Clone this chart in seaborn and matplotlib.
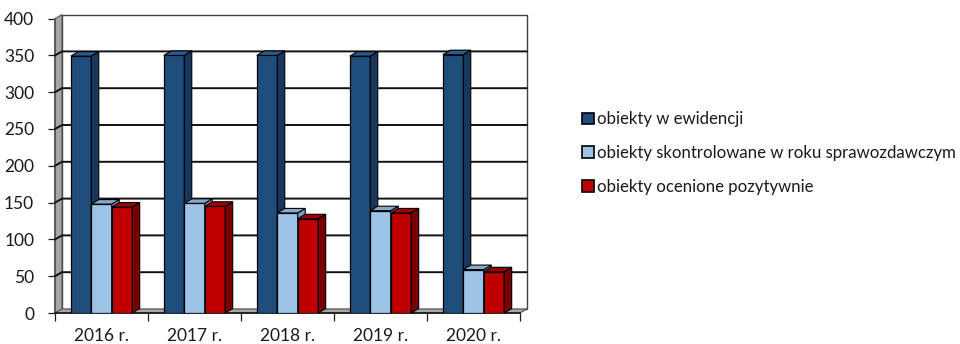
import numpy as np
import pandas as pd
import matplotlib
matplotlib.use("Agg")
import matplotlib.pyplot as plt
from matplotlib.patches import Polygon, Patch
import seaborn as sns

# Data
years = ["2016 r.", "2017 r.", "2018 r.", "2019 r.", "2020 r."]
series_names = [
    "obiekty w ewidencji",
    "obiekty skontrolowane w roku sprawozdawczym",
    "obiekty ocenione pozytywnie",
]
w_ewidencji = [349, 350, 350, 349, 351]
skontrolowane = [148, 149, 136, 139, 59]
ocenione = [144, 145, 128, 136, 56]
y_ticks = [0, 50, 100, 150, 200, 250, 300, 350, 400]

df = pd.DataFrame({
    "rok": years * 3,
    "seria": [series_names[0]] * 5 + [series_names[1]] * 5 + [series_names[2]] * 5,
    "liczba": w_ewidencji + skontrolowane + ocenione,
})

front = ["#1F4E7D", "#9DC3E6", "#C00000"]
side = ["#17375E", "#7E9CBF", "#7A0000"]
top = ["#2A5A92", "#8AA8CC", "#A00000"]

sns.set_theme(style="white")
plt.rcParams["font.family"] = ["Lato", "DejaVu Sans"]
TXT = "#1a1a1a"

fig = plt.figure(figsize=(9.6, 3.44), dpi=100)
fig.patch.set_facecolor("white")
ax = fig.add_axes([55 / 960, 31 / 344, 465 / 960, (313 - 18.6) / 344])
ax.set_facecolor("none")

sns.barplot(data=df, x="rok", y="liczba", hue="seria", order=years,
            hue_order=series_names, palette=front, saturation=1, width=0.66,
            edgecolor="black", linewidth=0.9, ax=ax, legend=False)

ax.set_xlim(-0.5, len(years) - 0.5)
ax.set_ylim(0, 400)
fig.canvas.draw()

WALL = np.array([7.0, 4.0])   # depth of the back wall, px
BAR = np.array([7.5, 4.5])    # depth of each column, px
inv = ax.transData.inverted()


def shifted(x, y, d):
    p = ax.transData.transform((x, y)) + d
    return tuple(inv.transform(p))


x0, x1 = ax.get_xlim()
zero = np.zeros(2)

# back wall, side wall and floor
wall = Polygon([shifted(x0, 0, WALL), shifted(x1, 0, WALL), shifted(x1, 400, WALL),
                shifted(x0, 400, WALL)], closed=True, facecolor="white",
               edgecolor="#404040", linewidth=1.0, zorder=0.5, clip_on=False)
ax.add_patch(wall)
left_wall = Polygon([shifted(x0, 0, zero), shifted(x0, 400, zero), shifted(x0, 400, WALL),
                     shifted(x0, 0, WALL)], closed=True, facecolor="#A6A6A6",
                    edgecolor="#555555", linewidth=0.8, zorder=0.6, clip_on=False)
ax.add_patch(left_wall)
floor = Polygon([shifted(x0, 0, zero), shifted(x1, 0, zero), shifted(x1, 0, WALL),
                 shifted(x0, 0, WALL)], closed=True, facecolor="#A6A6A6",
                edgecolor="#555555", linewidth=0.8, zorder=0.6, clip_on=False)
ax.add_patch(floor)

# gridlines on side wall and back wall
for v in y_ticks[1:-1]:
    pts = [shifted(x0, v, zero), shifted(x0, v, WALL), shifted(x1, v, WALL)]
    ax.plot([p[0] for p in pts], [p[1] for p in pts], color="#111111",
            linewidth=1.4, zorder=1, clip_on=False)

# columns with side and top faces
for h, cont in enumerate(ax.containers):
    for bar in cont:
        bx0 = bar.get_x()
        bx1 = bx0 + bar.get_width()
        bh = bar.get_height()
        z = 3 + h
        bar.set_zorder(z)
        sface = Polygon([shifted(bx1, 0, zero), shifted(bx1, bh, zero),
                         shifted(bx1, bh, BAR), shifted(bx1, 0, BAR)], closed=True,
                        facecolor=side[h], edgecolor="black", linewidth=0.8,
                        zorder=z + 0.5, clip_on=False)
        tface = Polygon([shifted(bx0, bh, zero), shifted(bx1, bh, zero),
                         shifted(bx1, bh, BAR), shifted(bx0, bh, BAR)], closed=True,
                        facecolor=top[h], edgecolor="black", linewidth=0.8,
                        zorder=z + 0.5, clip_on=False)
        ax.add_patch(sface)
        ax.add_patch(tface)

# axes
for s in ["top", "right"]:
    ax.spines[s].set_visible(False)
ax.spines["left"].set_color("#555555")
ax.spines["bottom"].set_color("#1a1a1a")
ax.spines["left"].set_zorder(0.7)
ax.set_yticks(y_ticks)
ax.set_yticklabels([str(v) for v in y_ticks])
ax.set_xticks(range(len(years)))
ax.set_xticklabels(years)
ax.set_xticks(np.arange(-0.5, len(years)), minor=True)
ax.tick_params(axis="x", which="major", length=0, pad=11, labelsize=12.5, colors=TXT)
ax.tick_params(axis="x", which="minor", length=6, width=0.9, color="#1a1a1a", bottom=True)
ax.tick_params(axis="y", length=5, width=0.9, color="#1a1a1a", pad=10, labelsize=12.5,
               labelcolor=TXT, left=True)
ax.set_xlabel("")
ax.set_ylabel("")
ax.grid(False)

handles = [Patch(facecolor=c, edgecolor="black", linewidth=1.2) for c in front]
fig.legend(handles, series_names, loc="center left", bbox_to_anchor=(582 / 960, 1 - 153 / 344),
           frameon=False, fontsize=12.1, handlelength=0.7, handleheight=0.7,
           handletextpad=0.2, labelspacing=1.05, labelcolor=TXT, borderaxespad=0, borderpad=0)

fig.savefig("out.png", dpi=100, facecolor="white")
